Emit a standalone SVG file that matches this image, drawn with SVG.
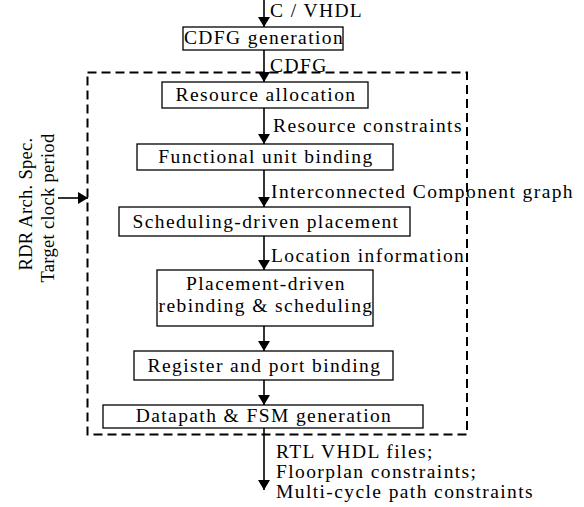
<svg xmlns="http://www.w3.org/2000/svg" width="584" height="507" viewBox="0 0 584 507">
<style>
text{font-family:"Liberation Serif","Times New Roman",serif;font-size:19.5px;fill:#000;letter-spacing:1.4px}
.box rect{fill:#fff;stroke:#000;stroke-width:1.3}
.box text{text-anchor:middle}
.c line{stroke:#000;stroke-width:1.6}
.side{font-size:18.5px;letter-spacing:0.3px;text-anchor:middle}
</style>
<defs>
<marker id="ah" viewBox="0 0 10 12" refX="10" refY="6" markerWidth="10" markerHeight="12" markerUnits="userSpaceOnUse" orient="auto">
<path d="M0,0 L10,6 L0,12 Z" fill="#000"/>
</marker>
</defs>
<rect id="region" x="87.5" y="72.5" width="379.5" height="362" fill="none" stroke="#000" stroke-width="2" stroke-dasharray="9,5"/>
<g class="c">
<line x1="264" y1="0" x2="264" y2="27" marker-end="url(#ah)"/>
<line x1="264" y1="50" x2="264" y2="82" marker-end="url(#ah)"/>
<line x1="264" y1="108" x2="264" y2="144" marker-end="url(#ah)"/>
<line x1="264" y1="170" x2="264" y2="207" marker-end="url(#ah)"/>
<line x1="264" y1="236" x2="264" y2="270" marker-end="url(#ah)"/>
<line x1="264" y1="326" x2="264" y2="351" marker-end="url(#ah)"/>
<line x1="264" y1="380" x2="264" y2="405" marker-end="url(#ah)"/>
<line x1="264" y1="428" x2="264" y2="490" marker-end="url(#ah)"/>
<line x1="58" y1="198" x2="88" y2="198" marker-end="url(#ah)"/>
</g>
<g id="labels">
<text x="270" y="17">C / VHDL</text>
<text x="270" y="72">CDFG</text>
<text x="273" y="132">Resource constraints</text>
<text x="271" y="198">Interconnected Component graph</text>
<text x="271" y="262">Location information</text>
<text x="276" y="458">RTL VHDL files;</text>
<text x="276" y="478">Floorplan constraints;</text>
<text x="276" y="498">Multi-cycle path constraints</text>
<text class="side" transform="translate(32,204) rotate(-90)">RDR Arch. Spec.</text>
<text class="side" transform="translate(54,208) rotate(-90)">Target clock period</text>
</g>
<g id="n1" class="box"><rect x="183" y="27" width="160" height="23"/><text x="264" y="44">CDFG generation</text></g>
<g id="n2" class="box"><rect x="162" y="82" width="206" height="26"/><text x="266" y="101">Resource allocation</text></g>
<g id="n3" class="box"><rect x="137" y="144" width="256" height="26"/><text x="266" y="163">Functional unit binding</text></g>
<g id="n4" class="box"><rect x="119" y="207" width="291" height="29"/><text x="266" y="228">Scheduling-driven placement</text></g>
<g id="n5" class="box"><rect x="157" y="270" width="216" height="56"/><text x="266" y="290">Placement-driven</text><text x="266" y="312">rebinding &amp; scheduling</text></g>
<g id="n6" class="box"><rect x="134" y="351" width="259" height="29"/><text x="264.5" y="372">Register and port binding</text></g>
<g id="n7" class="box"><rect x="103" y="405" width="320" height="23"/><text x="264" y="422">Datapath &amp; FSM generation</text></g>
</svg>
